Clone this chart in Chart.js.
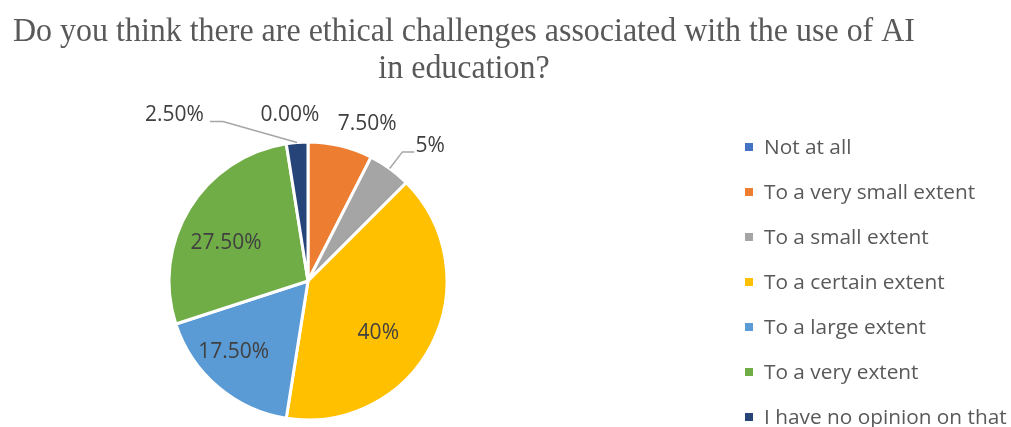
<!DOCTYPE html>
<html>
<head>
<meta charset="utf-8">
<script src="https://cdn.jsdelivr.net/npm/chart.js@4"></script>
<style>
  html, body { margin: 0; padding: 0; background: #ffffff; }
  #wrap { width: 1011px; height: 427px; }
</style>
</head>
<body>
<div id="wrap"><canvas id="c" width="1011" height="427"></canvas></div>
<script>
// ---- data ----
const titleLines = ["Do you think there are ethical challenges associated with the use of AI", "in education?"];
const categories = ["Not at all", "To a very small extent", "To a small extent", "To a certain extent", "To a large extent", "To a very extent", "I have no opinion on that"];
const values = [0, 7.5, 5, 40, 17.5, 27.5, 2.5];
const valueLabels = ["0.00%", "7.50%", "5%", "40%", "17.50%", "27.50%", "2.50%"];

// ---- style ----
const colors = ["#4472C4", "#ED7D31", "#A5A5A5", "#FFC000", "#5B9BD5", "#70AD47", "#264478"];
const labelPlacement = [
  { r: 1.20, da: -6.2 },
  { r: 1.21, da: 7.1 },
  { r: 1.31, da: 6.1, leader: "left" },
  { r: 0.63, da: 9.6 },
  { r: 0.74, da: 5.7 },
  { r: 0.65, da: -6.6 },
  { r: 1.53, da: -34.4, leader: "right" }
];
const labelFont = '21px "Open Sans", Lato, sans-serif';
const legendFont = '20.8px "Open Sans", Lato, sans-serif';

const titlePlugin = {
  id: 'customTitle',
  afterDraw(chart) {
    const ctx = chart.ctx;
    ctx.save();
    ctx.fillStyle = '#595959';
    ctx.font = '34px "Liberation Serif", "Times New Roman", serif';
    ctx.textBaseline = 'alphabetic';
    ctx.textAlign = 'center';
    const targetW = 902;
    const w0 = ctx.measureText(titleLines[0]).width;
    const sx = targetW / w0;
    const cx = 464;
    const baselines = [41, 78];
    titleLines.forEach((t, i) => {
      ctx.save();
      ctx.translate(cx, baselines[i]);
      ctx.scale(sx, 1);
      ctx.fillText(t, 0, 0);
      ctx.restore();
    });
    ctx.restore();
  }
};

const legendPlugin = {
  id: 'customLegend',
  afterDraw(chart) {
    const ctx = chart.ctx;
    ctx.save();
    ctx.font = legendFont;
    ctx.textBaseline = 'middle';
    ctx.textAlign = 'left';
    const x0 = 745, y0 = 147, step = 45;
    categories.forEach((c, i) => {
      const y = y0 + i * step;
      ctx.fillStyle = colors[i];
      ctx.fillRect(x0, y - 4, 8, 8);
      ctx.fillStyle = '#595959';
      ctx.fillText(c, x0 + 19, y + 1);
    });
    ctx.restore();
  }
};

const labelPlugin = {
  id: 'sliceLabels',
  afterDatasetsDraw(chart) {
    const ctx = chart.ctx;
    const meta = chart.getDatasetMeta(0);
    ctx.save();
    ctx.font = labelFont;
    ctx.textBaseline = 'middle';
    ctx.textAlign = 'center';
    meta.data.forEach((arc, i) => {
      const p = arc.getProps(['x', 'y', 'startAngle', 'endAngle', 'outerRadius'], true);
      const mid = (p.startAngle + p.endAngle) / 2;
      const place = labelPlacement[i];
      const a = mid + place.da * Math.PI / 180;
      const tx = p.x + Math.cos(a) * p.outerRadius * place.r;
      const ty = p.y + Math.sin(a) * p.outerRadius * place.r;
      const text = valueLabels[i];
      const w = ctx.measureText(text).width;
      if (place.leader) {
        const ex = p.x + Math.cos(mid) * p.outerRadius;
        const ey = p.y + Math.sin(mid) * p.outerRadius;
        let endX, elbowX;
        const ly = ty + 6;
        if (place.leader === 'left') {
          endX = tx - w / 2 - 1;
          elbowX = endX - 12;
        } else {
          endX = tx + w / 2 + 6;
          elbowX = endX + 13;
        }
        ctx.strokeStyle = '#A6A6A6';
        ctx.lineWidth = 1.5;
        ctx.beginPath();
        ctx.moveTo(ex, ey);
        ctx.lineTo(elbowX, ly);
        ctx.lineTo(endX, ly);
        ctx.stroke();
      }
      ctx.fillStyle = '#404040';
      ctx.fillText(text, tx, ty);
    });
    ctx.restore();
  }
};

new Chart(document.getElementById('c'), {
  type: 'pie',
  data: {
    labels: categories,
    datasets: [{
      data: values,
      backgroundColor: colors,
      borderColor: '#ffffff',
      borderWidth: 3
    }]
  },
  options: {
    responsive: false,
    animation: false,
    layout: { padding: { left: 167.5, right: 562.5, top: 140.5, bottom: 5.5 } },
    plugins: {
      legend: { display: false },
      title: { display: false },
      tooltip: { enabled: false }
    }
  },
  plugins: [titlePlugin, legendPlugin, labelPlugin]
});
</script>
</body>
</html>
